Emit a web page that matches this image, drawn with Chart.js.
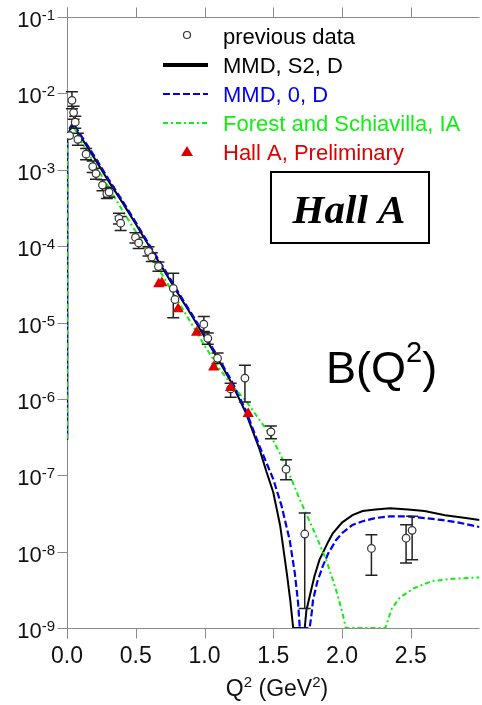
<!DOCTYPE html>
<html>
<head>
<meta charset="utf-8">
<script src="https://cdn.jsdelivr.net/npm/chart.js@4.4.0/dist/chart.umd.min.js"></script>
<style>
  html, body { margin: 0; padding: 0; background: #fff; overflow: hidden; }
  #wrap { position: relative; width: 486px; height: 705px; }
</style>
</head>
<body>
<div id="wrap"><canvas id="chartB" width="486" height="705"></canvas></div>
<script>
// previous data, Q^2 in GeV^2, B with lower / upper error
const prevQ2 = [0.019, 0.036, 0.048, 0.06, 0.079, 0.139, 0.187, 0.211, 0.258, 0.29, 0.306, 0.378, 0.39, 0.498, 0.521, 0.593, 0.617, 0.665, 0.773, 0.785, 0.995, 1.024, 1.095, 1.19, 1.294, 1.483, 1.593, 1.729, 2.214, 2.466, 2.51];
const prevB  = [2.8e-3, 8.1e-3, 5.6e-3, 4.2e-3, 2.5e-3, 1.6e-3, 1.1e-3, 8.9e-4, 6.3e-4, 4.9e-4, 5.1e-4, 2.3e-4, 2.0e-4, 1.3e-4, 1.1e-4, 8.5e-5, 7.2e-5, 5.4e-5, 2.8e-5, 2.0e-5, 9.5e-6, 6.2e-6, 3.4e-6, 1.35e-6, 1.87e-6, 3.7e-7, 1.2e-7, 1.7e-8, 1.1e-8, 1.5e-8, 1.9e-8];
const prevLo = [2.8e-3, 6.3e-3, 4.6e-3, 3.5e-3, 2.1e-3, 1.35e-3, 9.2e-4, 7.5e-4, 5.3e-4, 4.2e-4, 4.4e-4, 1.95e-4, 1.6e-4, 1.1e-4, 9.3e-5, 7.4e-5, 6.3e-5, 4.7e-5, 1.15e-5, 2.0e-5, 7.6e-6, 5.2e-6, 2.9e-6, 1.05e-6, 9.1e-7, 3.0e-7, 8.7e-8, 1.8e-9, 4.9e-9, 7.1e-9, 7.8e-9];
const prevHi = [2.8e-3, 1.05e-2, 6.8e-3, 5.0e-3, 3.0e-3, 1.9e-3, 1.3e-3, 1.05e-3, 7.4e-4, 5.7e-4, 5.9e-4, 2.7e-4, 2.45e-4, 1.5e-4, 1.3e-4, 9.8e-5, 8.2e-5, 6.2e-5, 4.4e-5, 2.0e-5, 1.2e-5, 7.3e-6, 4.0e-6, 1.6e-6, 2.75e-6, 4.4e-7, 1.6e-7, 3.2e-8, 1.66e-8, 2.24e-8, 2.9e-8];

// Hall A preliminary
const hallQ2 = [0.667, 0.69, 0.808, 0.943, 1.067, 1.19, 1.318];
const hallB  = [3.2e-5, 3.3e-5, 1.5e-5, 7.4e-6, 2.6e-6, 1.4e-6, 6.4e-7];

// MMD, S2, D
const mmdS2Q2 = [0, 0.002, 0.02, 0.043, 0.1, 0.2, 0.3, 0.4, 0.5, 0.6, 0.7, 0.8, 0.9, 1.0, 1.1, 1.2, 1.3, 1.4, 1.45, 1.5, 1.55, 1.6, 1.625, 1.645, 1.729, 1.741, 1.765, 1.8, 1.836, 1.9, 1.933, 2.0, 2.076, 2.15, 2.243, 2.35, 2.48, 2.6, 2.75, 2.9, 3.0];
const mmdS2B  = [3.0e-7, 2.4e-3, 3.3e-3, 3.8e-3, 2.7e-3, 1.41e-3, 7.2e-4, 3.8e-4, 1.95e-4, 9.8e-5, 5.0e-5, 2.5e-5, 1.29e-5, 6.5e-6, 3.3e-6, 1.58e-6, 6.6e-7, 2.2e-7, 1.12e-7, 6.0e-8, 2.2e-8, 5.0e-9, 2.2e-9, 1.0e-9, 1.0e-9, 1.7e-9, 2.6e-9, 4.8e-9, 7.8e-9, 1.35e-8, 1.74e-8, 2.4e-8, 3.0e-8, 3.4e-8, 3.55e-8, 3.7e-8, 3.55e-8, 3.4e-8, 3.0e-8, 2.75e-8, 2.6e-8];

// MMD, 0, D
const mmd0Q2 = [0, 0.002, 0.02, 0.043, 0.1, 0.2, 0.3, 0.4, 0.5, 0.6, 0.7, 0.8, 0.9, 1.0, 1.1, 1.2, 1.3, 1.4, 1.5, 1.56, 1.62, 1.657, 1.68, 1.693, 1.765, 1.78, 1.789, 1.82, 1.861, 1.9, 1.956, 2.0, 2.076, 2.15, 2.243, 2.35, 2.48, 2.6, 2.72, 2.85, 3.0];
const mmd0B  = [3.0e-7, 2.5e-3, 3.5e-3, 4.1e-3, 2.85e-3, 1.5e-3, 7.6e-4, 4.0e-4, 2.05e-4, 1.03e-4, 5.3e-5, 2.65e-5, 1.36e-5, 6.9e-6, 3.5e-6, 1.68e-6, 7.1e-7, 2.4e-7, 8.9e-8, 4.0e-8, 1.4e-8, 5.2e-9, 2.2e-9, 1.0e-9, 1.0e-9, 1.6e-9, 2.3e-9, 4.0e-9, 6.5e-9, 9.5e-9, 1.41e-8, 1.74e-8, 2.24e-8, 2.5e-8, 2.75e-8, 2.9e-8, 2.9e-8, 2.75e-8, 2.6e-8, 2.4e-8, 2.1e-8];

// Forest and Schiavilla, IA
const fsQ2 = [0, 0.002, 0.02, 0.055, 0.1, 0.2, 0.3, 0.4, 0.5, 0.6, 0.7, 0.8, 0.9, 1.0, 1.1, 1.2, 1.3, 1.382, 1.478, 1.55, 1.62, 1.7, 1.8, 1.885, 1.956, 2.0, 2.028, 2.315, 2.363, 2.42, 2.52, 2.65, 2.8, 3.0];
const fsB  = [3.0e-7, 2.2e-3, 3.1e-3, 3.5e-3, 2.4e-3, 1.2e-3, 6.0e-4, 3.0e-4, 1.55e-4, 7.9e-5, 4.0e-5, 2.0e-5, 1.0e-5, 5.0e-6, 2.6e-6, 1.5e-6, 9.5e-7, 5.9e-7, 3.4e-7, 1.9e-7, 1.0e-7, 4.5e-8, 1.8e-8, 7.8e-9, 3.2e-9, 1.66e-9, 1.0e-9, 1.0e-9, 1.8e-9, 2.5e-9, 3.3e-9, 4.1e-9, 4.4e-9, 4.6e-9];

// axis ticks
const xTicks = [0, 0.5, 1.0, 1.5, 2.0, 2.5];
const xTickLabels = ['0.0', '0.5', '1.0', '1.5', '2.0', '2.5'];
const yTickExp = [-1, -2, -3, -4, -5, -6, -7, -8, -9];

const legendItems = [
  { text: 'previous data', color: '#000', kind: 'circle' },
  { text: 'MMD, S2, D', color: '#000', kind: 'solid' },
  { text: 'MMD, 0, D', color: '#0000ee', kind: 'dash' },
  { text: 'Forest and Schiavilla, IA', color: '#11ee11', kind: 'dashdot' },
  { text: 'Hall A, Preliminary', color: '#dd0000', kind: 'triangle' }
];

const SANS = '"Liberation Sans", Arial, sans-serif';
const SERIF = '"Liberation Serif", "Times New Roman", serif';

function pts(xs, ys) {
  return xs.map((v, i) => ({ x: v, y: ys[i] }));
}

// draws text made of pieces, some raised as superscripts
function drawParts(ctx, parts, x, y, align) {
  let total = 0;
  parts.forEach(p => {
    ctx.font = p.size + 'px ' + SANS;
    p.w = ctx.measureText(p.t).width;
    total += p.w;
  });
  let cx = x;
  if (align === 'right') cx = x - total;
  if (align === 'center') cx = x - total / 2;
  ctx.textAlign = 'left';
  ctx.textBaseline = 'alphabetic';
  parts.forEach(p => {
    ctx.font = p.size + 'px ' + SANS;
    ctx.fillText(p.t, cx, y - (p.up || 0));
    cx += p.w;
  });
}

const framePlugin = {
  id: 'frame',
  beforeDatasetsDraw(chart) {
    const { ctx, chartArea: a, scales: { x, y } } = chart;
    ctx.save();
    ctx.strokeStyle = '#8a8a8a';
    ctx.lineWidth = 1;
    const L = Math.round(a.left) + 0.5, B = Math.round(a.bottom) + 0.5, T = Math.round(a.top) + 0.5;
    ctx.beginPath();
    ctx.moveTo(L, T - 10); ctx.lineTo(L, B + 10);
    ctx.moveTo(L, B); ctx.lineTo(a.right, B);
    ctx.moveTo(L, T); ctx.lineTo(a.right, T);
    yTickExp.forEach(e => {
      const py = Math.round(y.getPixelForValue(Math.pow(10, e))) + 0.5;
      ctx.moveTo(L - 10, py); ctx.lineTo(L, py);
    });
    xTicks.forEach(v => {
      const px = Math.round(x.getPixelForValue(v)) + 0.5;
      ctx.moveTo(px, B); ctx.lineTo(px, B + 10);
      ctx.moveTo(px, T - 10); ctx.lineTo(px, T);
    });
    ctx.stroke();

    ctx.fillStyle = '#111';
    yTickExp.forEach(e => {
      const py = y.getPixelForValue(Math.pow(10, e));
      drawParts(ctx, [{ t: '10', size: 22 }, { t: String(e), size: 15, up: 7 }], 55, py + 10, 'right');
    });
    xTicks.forEach((v, i) => {
      const px = x.getPixelForValue(v);
      drawParts(ctx, [{ t: xTickLabels[i], size: 23 }], px, 663, 'center');
    });
    drawParts(ctx, [
      { t: 'Q', size: 23 }, { t: '2', size: 15, up: 9 },
      { t: ' (GeV', size: 23 }, { t: '2', size: 15, up: 9 }, { t: ')', size: 23 }
    ], 277, 696, 'center');
    ctx.restore();
  },
  beforeDatasetDraw(chart, args) {
    if (args.index !== 1) return;
    const { ctx, scales: { x, y } } = chart;
    ctx.save();
    ctx.strokeStyle = '#222';
    ctx.lineWidth = 1.5;
    ctx.beginPath();
    prevQ2.forEach((q, i) => {
      const px = x.getPixelForValue(q);
      const top = y.getPixelForValue(prevHi[i]);
      const bot = y.getPixelForValue(prevLo[i]);
      if (bot - top < 4) return;
      ctx.moveTo(px, top); ctx.lineTo(px, bot);
      ctx.moveTo(px - 6, top); ctx.lineTo(px + 6, top);
      ctx.moveTo(px - 6, bot); ctx.lineTo(px + 6, bot);
    });
    ctx.stroke();
    ctx.restore();
  },
  afterDraw(chart) {
    const { ctx } = chart;
    ctx.save();
    // legend
    const base0 = 44, step = 29;
    legendItems.forEach((it, i) => {
      const by = base0 + i * step;
      const sy = by - 8;
      ctx.setLineDash([]);
      if (it.kind === 'circle') {
        ctx.beginPath();
        ctx.arc(187, sy - 1, 3.5, 0, Math.PI * 2);
        ctx.fillStyle = '#fff'; ctx.fill();
        ctx.strokeStyle = '#333'; ctx.lineWidth = 1.2; ctx.stroke();
      } else if (it.kind === 'triangle') {
        ctx.beginPath();
        ctx.moveTo(187, sy - 6); ctx.lineTo(193, sy + 4); ctx.lineTo(181, sy + 4);
        ctx.closePath();
        ctx.fillStyle = '#dd0000'; ctx.fill();
      } else {
        ctx.beginPath();
        ctx.moveTo(163, sy); ctx.lineTo(208, sy);
        if (it.kind === 'solid') { ctx.strokeStyle = '#000'; ctx.lineWidth = 4; }
        if (it.kind === 'dash') { ctx.strokeStyle = '#0000ee'; ctx.lineWidth = 2; ctx.setLineDash([7, 3]); }
        if (it.kind === 'dashdot') { ctx.strokeStyle = '#11ee11'; ctx.lineWidth = 2; ctx.setLineDash([5, 3, 2, 3]); }
        ctx.stroke();
      }
      ctx.fillStyle = it.color;
      drawParts(ctx, [{ t: it.text, size: 22 }], 223, by, 'left');
    });
    ctx.setLineDash([]);

    // Hall A box
    ctx.strokeStyle = '#000';
    ctx.lineWidth = 2;
    ctx.strokeRect(271, 172, 158, 71);
    ctx.fillStyle = '#000';
    ctx.font = 'bold italic 41px ' + SERIF;
    ctx.textAlign = 'center';
    ctx.textBaseline = 'alphabetic';
    ctx.fillText('Hall A', 349, 223);

    // B(Q^2)
    drawParts(ctx, [
      { t: 'B(Q', size: 45 }, { t: '2', size: 29, up: 21 }, { t: ')', size: 45 }
    ], 326, 383, 'left');
    ctx.restore();
  }
};

new Chart(document.getElementById('chartB'), {
  type: 'scatter',
  data: {
    datasets: [
      {
        label: 'Hall A, Preliminary',
        data: pts(hallQ2, hallB),
        pointStyle: 'triangle',
        pointRadius: 6.5,
        pointBackgroundColor: '#e00000',
        pointBorderColor: '#e00000',
        pointBorderWidth: 0,
        showLine: false
      },
      {
        label: 'previous data',
        data: pts(prevQ2, prevB),
        pointStyle: 'circle',
        pointRadius: 3.8,
        pointBackgroundColor: '#fff',
        pointBorderColor: '#333',
        pointBorderWidth: 1.2,
        showLine: false
      },
      {
        label: 'Forest and Schiavilla, IA',
        data: pts(fsQ2, fsB),
        showLine: true,
        borderColor: '#11ee11',
        borderWidth: 2,
        borderDash: [5, 3, 2, 3],
        pointRadius: 0,
        tension: 0
      },
      {
        label: 'MMD, 0, D',
        data: pts(mmd0Q2, mmd0B),
        showLine: true,
        borderColor: '#0000ee',
        borderWidth: 2.2,
        borderDash: [7, 3],
        pointRadius: 0,
        tension: 0
      },
      {
        label: 'MMD, S2, D',
        data: pts(mmdS2Q2, mmdS2B),
        showLine: true,
        borderColor: '#000',
        borderWidth: 2,
        pointRadius: 0,
        tension: 0
      }
    ]
  },
  options: {
    responsive: false,
    animation: false,
    layout: { padding: { left: 67, top: 17, right: 0, bottom: 77 } },
    plugins: {
      legend: { display: false },
      tooltip: { enabled: false }
    },
    scales: {
      x: { type: 'linear', min: 0, max: 3, display: false },
      y: { type: 'logarithmic', min: 1e-9, max: 1e-1, display: false }
    }
  },
  plugins: [framePlugin]
});
</script>
</body>
</html>
